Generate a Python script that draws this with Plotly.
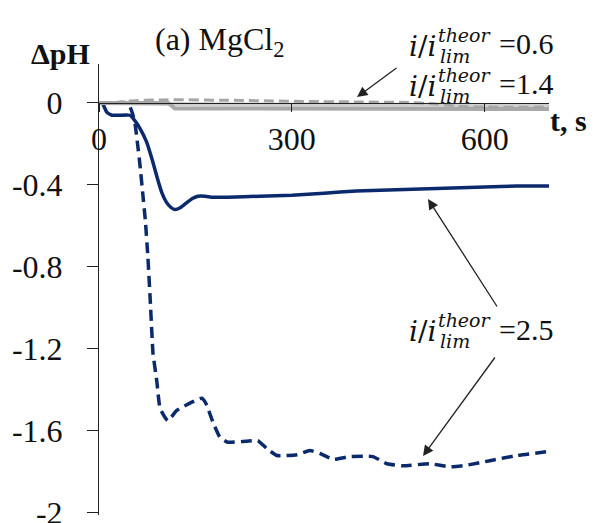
import plotly.graph_objects as go

# ---------------- data ----------------
t_solid_25 = [0, 5, 12, 20, 48, 53, 63, 74, 83, 91, 98, 105, 112, 118, 127, 137, 146, 154, 165, 177,
              200, 250, 300, 350, 400, 450, 500, 550, 600, 650, 700]
v_solid_25 = [0, 0, -0.045, -0.06, -0.06, -0.075, -0.12, -0.19, -0.28, -0.37, -0.44, -0.485, -0.51, -0.52,
              -0.51, -0.485, -0.465, -0.455, -0.455, -0.46,
              -0.46, -0.455, -0.45, -0.44, -0.43, -0.425, -0.42, -0.415, -0.41, -0.405, -0.405]

t_dash_25 = [0, 20, 45, 52, 56, 60, 64, 68, 72, 76, 80, 84, 90, 95, 107, 121, 138, 160, 167, 177, 188,
             200, 229, 247, 261, 277, 308, 328, 344, 364, 390, 426, 448, 473, 515, 546, 572, 608, 650, 700]
v_dash_25 = [0, 0, 0, -0.05, -0.10, -0.2, -0.31, -0.44, -0.57, -0.75, -0.98, -1.22, -1.36, -1.49, -1.55,
             -1.50, -1.47, -1.44, -1.47, -1.555, -1.63,
             -1.655, -1.65, -1.647, -1.686, -1.72, -1.716, -1.695, -1.71, -1.739, -1.725, -1.725, -1.76,
             -1.77, -1.76, -1.775, -1.767, -1.745, -1.72, -1.70]

t_grey_dash = [0, 20, 50, 100, 200, 300, 400, 500, 540, 570, 700]
v_grey_dash = [0, 0, 0.01, 0.015, 0.013, 0.008, 0.005, 0.0, -0.01, -0.018, -0.02]

t_grey_light = [0, 100, 300, 500, 700]
v_grey_light = [0, -0.005, -0.008, -0.01, -0.01]

t_grey_solid = [0, 108, 118, 300, 500, 700]
v_grey_solid = [0, 0, -0.027, -0.028, -0.03, -0.03]

x_ticks = [0, 300, 600]
y_ticks = [-2, -1.6, -1.2, -0.8, -0.4, 0]
y_ticktext = ["-2", "-1.6", "-1.2", "-0.8", "-0.4", "0"]

labels = [("0.6", 46), ("1.4", 86), ("2.5", 331)]

NAVY = "#0b2a6b"
Y_MIN, Y_MAX = -2.01, 0.19

# ---------------- geometry helpers ----------------
W, H = 594, 523
L, R, T, B = 99, 45, 64, 8
pw, ph = W - L - R, H - T - B


def px(X):
    return (X - L) / pw


def py(Y):
    return (H - B - Y) / ph


fig = go.Figure()

fig.add_trace(go.Scatter(x=t_dash_25, y=v_dash_25, mode="lines",
                         line=dict(color=NAVY, width=3.5, dash="11px,6px", shape="spline", smoothing=0.4),
                         showlegend=False))
fig.add_trace(go.Scatter(x=t_solid_25, y=v_solid_25, mode="lines",
                         line=dict(color=NAVY, width=3.5, shape="spline", smoothing=0.4),
                         showlegend=False))
fig.add_trace(go.Scatter(x=t_grey_light, y=v_grey_light, mode="lines",
                         line=dict(color="#cfcfcf", width=4), showlegend=False))
fig.add_trace(go.Scatter(x=t_grey_solid, y=v_grey_solid, mode="lines",
                         line=dict(color="#a9a9a9", width=4), showlegend=False))
fig.add_trace(go.Scatter(x=t_grey_dash, y=v_grey_dash, mode="lines",
                         line=dict(color="#a6a6a6", width=3, dash="10px,5px", shape="spline"),
                         showlegend=False))

SERIF = "Liberation Serif"
ann = []

# title and axis titles
ann.append(dict(text="(a) MgCl<sub>2</sub>", x=px(219), y=py(42), xref="paper", yref="paper",
                showarrow=False, xanchor="center", yanchor="middle",
                font=dict(family=SERIF, size=32, color="#111")))
ann.append(dict(text="<b>ΔpH</b>", x=px(60), y=py(54), xref="paper", yref="paper",
                showarrow=False, xanchor="center", yanchor="middle",
                font=dict(family=SERIF, size=30, color="#111")))
ann.append(dict(text="<b>t, s</b>", x=px(548), y=py(121), xref="paper", yref="paper",
                showarrow=False, xanchor="left", yanchor="middle",
                font=dict(family=SERIF, size=30, color="#111")))

# i/i_lim^theor labels
MATH = "DejaVu Serif"
for val, yc in labels:
    ann.append(dict(text="<i>i</i>/<i>i</i>", x=px(437), y=py(yc), xref="paper", yref="paper",
                    showarrow=False, xanchor="right", yanchor="middle", borderpad=0,
                    font=dict(family=MATH, size=28, color="#111")))
    ann.append(dict(text="<i>theor</i>", x=px(437), y=py(yc - 11), xref="paper", yref="paper",
                    showarrow=False, xanchor="left", yanchor="middle", borderpad=0,
                    font=dict(family=MATH, size=19, color="#111")))
    ann.append(dict(text="<i>lim</i>", x=px(439), y=py(yc + 10), xref="paper", yref="paper",
                    showarrow=False, xanchor="left", yanchor="middle", borderpad=0,
                    font=dict(family=MATH, size=19, color="#111")))
    ann.append(dict(text="=" + val, x=px(498), y=py(yc - 2), xref="paper", yref="paper",
                    showarrow=False, xanchor="left", yanchor="middle", borderpad=0,
                    font=dict(family=SERIF, size=30, color="#111")))

# arrows (tip, tail) in pixels
arrows = [((357, 97), (398, 67)), ((428, 199), (498, 308)), ((423, 456), (496, 356))]
for (tx, ty), (sx, sy) in arrows:
    ann.append(dict(text="", x=px(tx), y=py(ty), xref="paper", yref="paper",
                    showarrow=True, ax=sx - tx, ay=sy - ty, arrowhead=2, arrowsize=1.6,
                    arrowwidth=1.3, arrowcolor="#222"))

fig.update_layout(
    width=W, height=H,
    margin=dict(l=L, r=R, t=T, b=B, autoexpand=False),
    paper_bgcolor="white", plot_bgcolor="white",
    annotations=ann,
    xaxis=dict(range=[0, 700], tickvals=x_ticks, ticktext=[str(v) for v in x_ticks],
               showgrid=False, zeroline=False, showline=True, linecolor="#222", linewidth=1,
               ticks="outside", ticklen=8, tickcolor="#222", anchor="free", automargin=False,
               position=(0 - Y_MIN) / (Y_MAX - Y_MIN), ticklabelstandoff=0,
               tickfont=dict(family=SERIF, size=32, color="#111")),
    yaxis=dict(range=[Y_MIN, Y_MAX], tickvals=y_ticks, ticktext=y_ticktext,
               showgrid=False, zeroline=False, showline=True, linecolor="#222", linewidth=1,
               ticks="outside", ticklen=11, tickcolor="#222", ticklabelstandoff=18,
               ticklabeloverflow="allow", automargin=False,
               tickfont=dict(family=SERIF, size=32, color="#111")),
)

fig.write_html("out.html")
